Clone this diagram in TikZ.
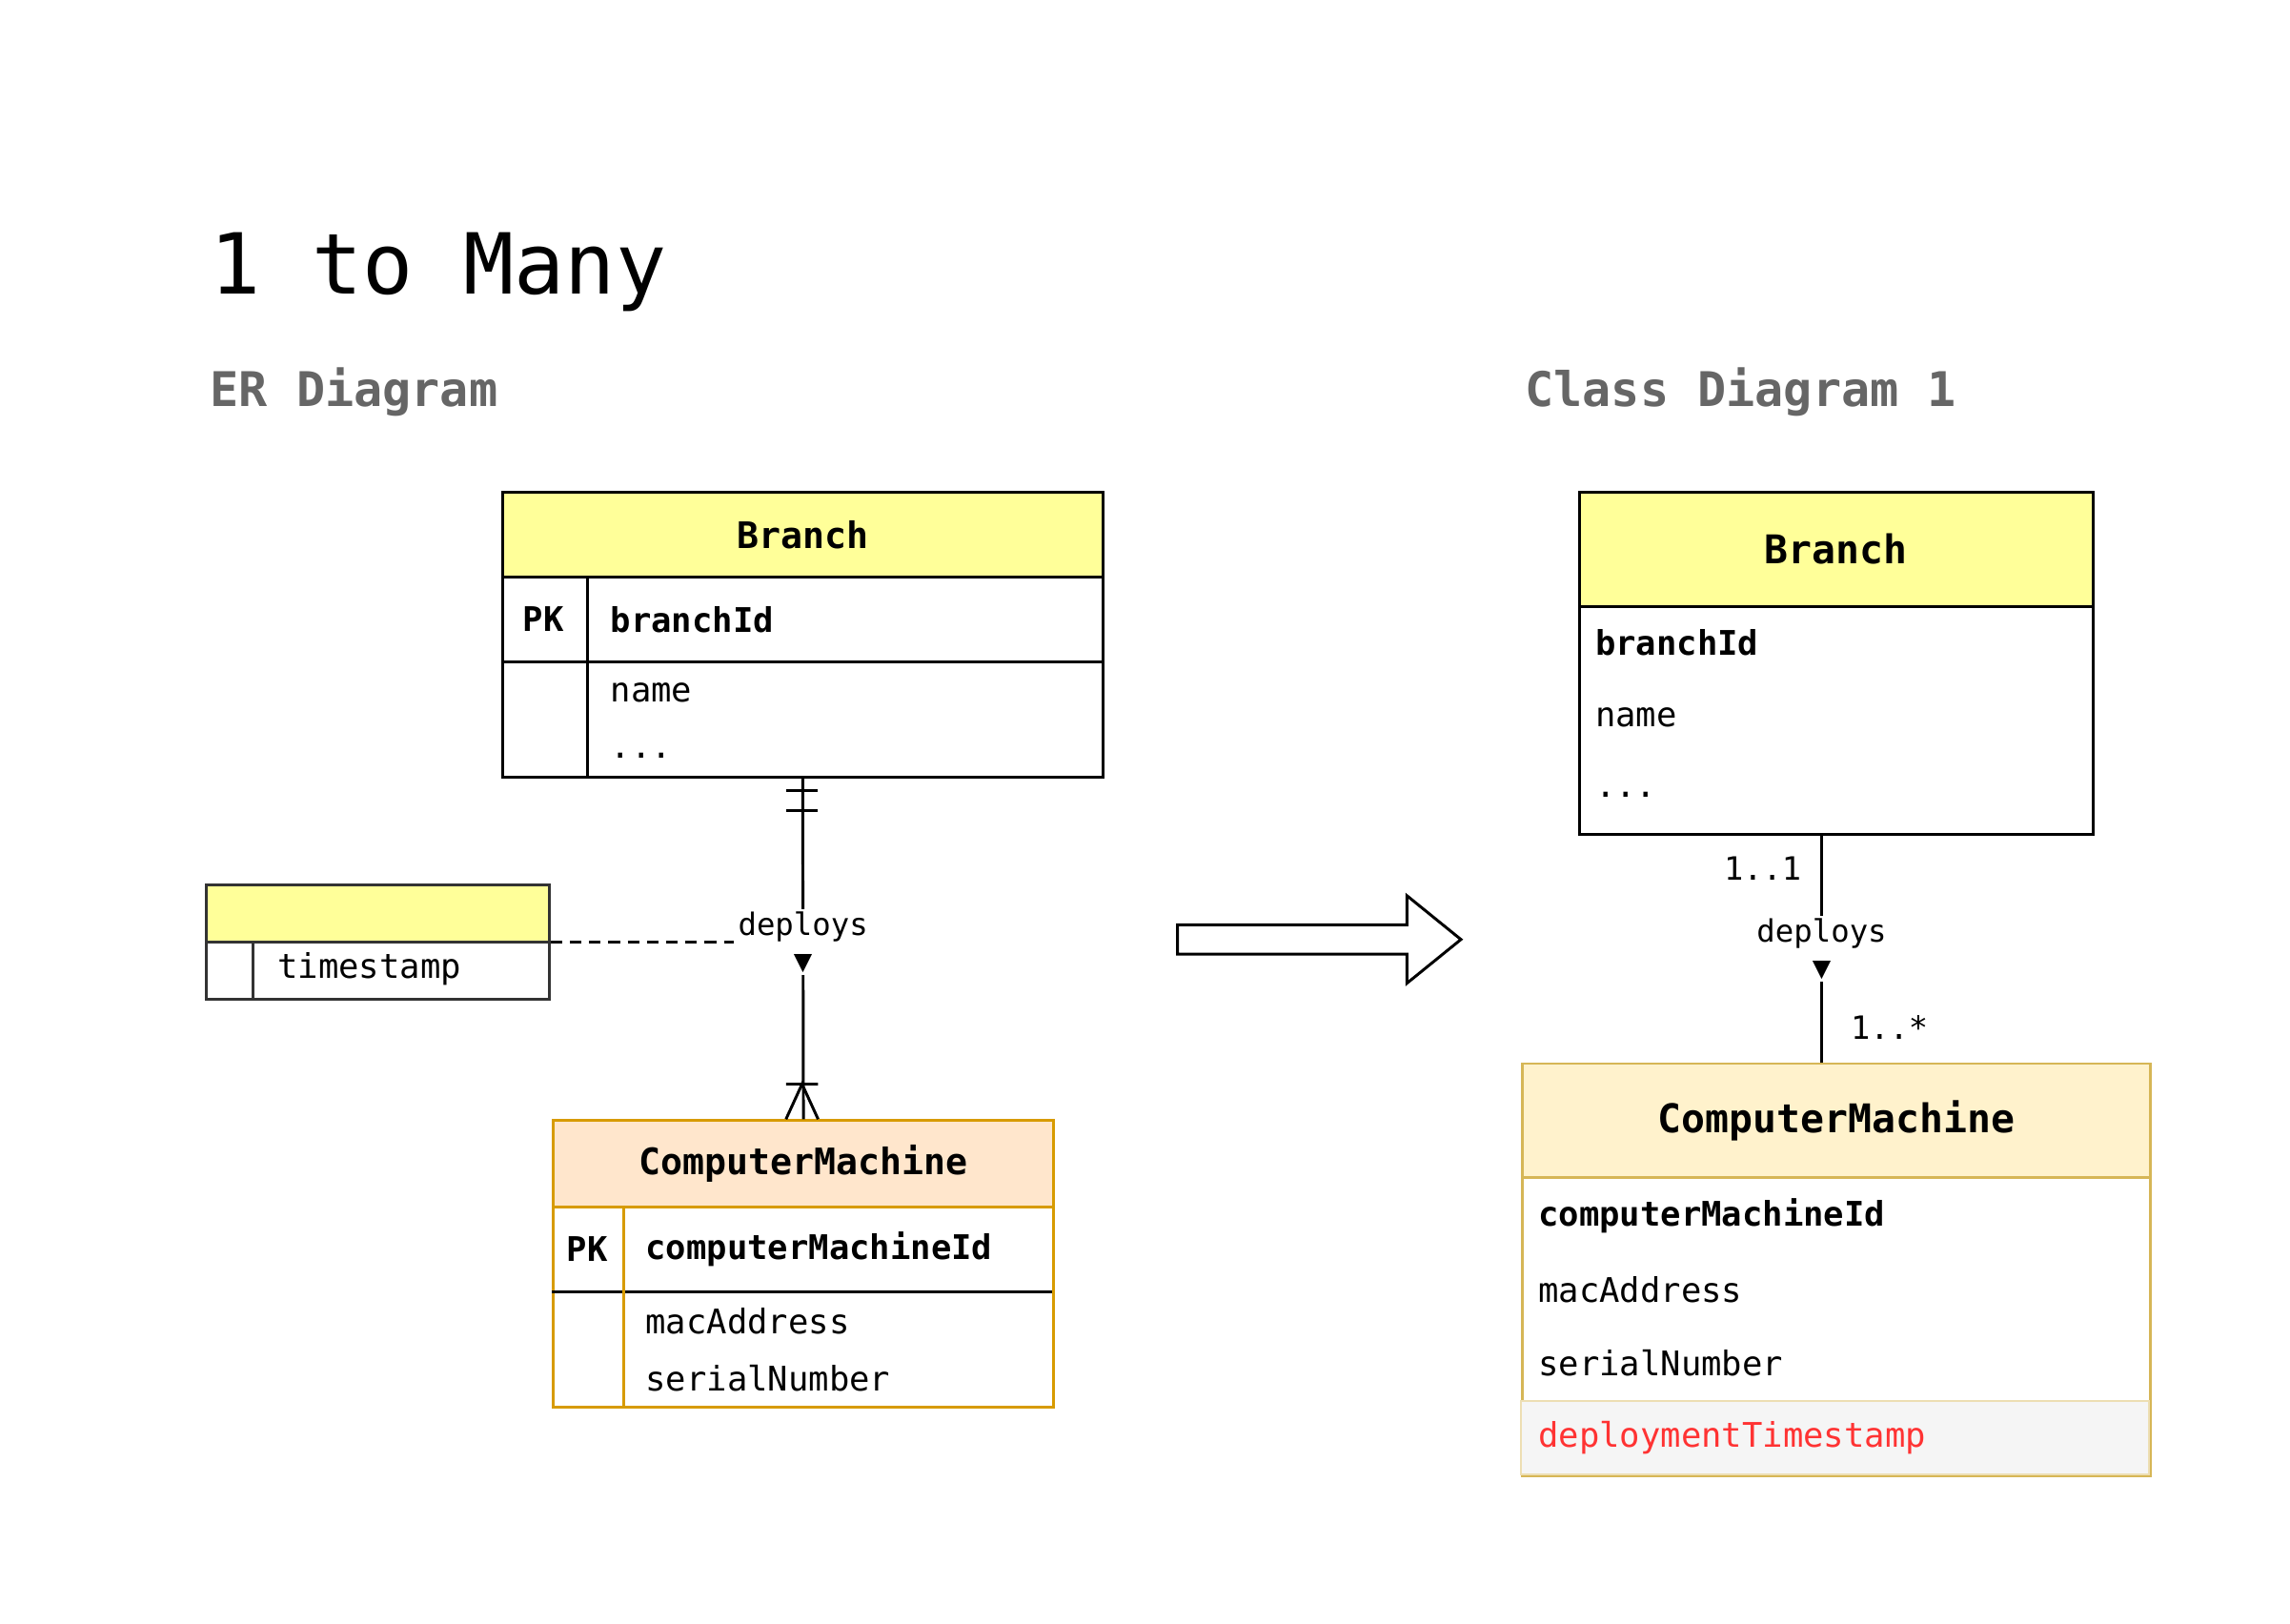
\documentclass[tikz,border=0pt]{standalone}
\usepackage{fontspec}
\setmainfont{DejaVu Sans Mono}

\definecolor{erYellow}{HTML}{FFFF99}
\definecolor{erPeach}{HTML}{FFE6CC}
\definecolor{erOrange}{HTML}{D79B00}
\definecolor{clCream}{HTML}{FFF2CC}
\definecolor{clGold}{HTML}{D6B656}
\definecolor{subGray}{HTML}{666666}
\definecolor{rowGray}{HTML}{F5F5F5}
\definecolor{newRed}{HTML}{FF3333}

\tikzset{
  tbl/.style={draw, anchor=north west, inner sep=0pt},
  head/.style={tbl, font=\fontsize{14.2}{17}\selectfont\bfseries},
  chead/.style={tbl, font=\fontsize{15.4}{18}\selectfont\bfseries},
  fld/.style={anchor=west, inner sep=0pt, font=\fontsize{13.2}{16}\selectfont},
  rel/.style={fill=white, align=center, inner sep=1pt, font=\fontsize{12}{14.2}\selectfont},
  mult/.style={inner sep=0pt, font=\fontsize{12.5}{15}\selectfont}
}

\begin{document}
\begin{tikzpicture}[x=0.02cm, y=-0.02cm, line width=1.1pt]
\useasboundingbox (0,0) rectangle (1567.5,1111.5);

\node[anchor=base west, inner sep=0pt, font=\fontsize{32.8}{38}\selectfont] (title) at (143,201) {1 to Many};
\node[anchor=base west, inner sep=0pt, text=subGray, font=\fontsize{18.6}{22}\selectfont\bfseries] (erTitle) at (143,278) {ER Diagram};
\node[anchor=base west, inner sep=0pt, text=subGray, font=\fontsize{18.6}{22}\selectfont\bfseries] (clTitle) at (1043,278) {Class Diagram 1};

% ER diagram
\node[head, fill=erYellow, minimum width=8.22cm, minimum height=1.16cm] (brErHead) at (343,336) {Branch};
\node[tbl, minimum width=8.22cm, minimum height=3.9cm] (brEr) at (343,336) {};
\draw (343,453) -- (754,453);
\draw (402,394) -- (402,531);
\node[fld, anchor=center, font=\fontsize{13.2}{16}\selectfont\bfseries] (brErPk) at (372,424) {PK};
\node[fld, font=\fontsize{13.2}{16}\selectfont\bfseries] (brErId) at (417,424) {branchId};
\node[fld] (brErName) at (417,474) {name};
\node[fld] (brErMore) at (417,517) {...};

\node[head, fill=erPeach, draw=erOrange, minimum width=6.84cm, minimum height=1.18cm] (cmErHead) at (378,766) {ComputerMachine};
\node[tbl, draw=erOrange, minimum width=6.84cm, minimum height=3.92cm] (cmEr) at (378,766) {};
\draw (378,884) -- (720,884);
\draw[erOrange] (427,825) -- (427,962);
\node[fld, anchor=center, font=\fontsize{13.2}{16}\selectfont\bfseries] (cmErPk) at (402,855) {PK};
\node[fld, font=\fontsize{13.2}{16}\selectfont\bfseries] (cmErId) at (441,855) {computerMachineId};
\node[fld] (cmErMac) at (441,904) {macAddress};
\node[fld] (cmErSerial) at (441,943) {serialNumber};

\node[tbl, fill=erYellow, draw=black!80, minimum width=4.7cm, minimum height=0.78cm] (tsHead) at (140,605) {};
\node[tbl, draw=black!80, minimum width=4.7cm, minimum height=1.56cm] (tsBox) at (140,605) {};
\draw[black!80] (173,644) -- (173,683);
\node[fld] (tsField) at (189,663) {timestamp};

\draw (brEr.south) -- (cmEr.north) node[rel, pos=0.48] (erRel) {deploys\\▼};
\draw (538,541) -- (560,541) (538,555) -- (560,555);
\draw (538,742) -- (560,742) (538,766) -- (549,742) -- (560,766);
\draw[dash pattern=on 4.5pt off 3pt] (tsBox.east) -- (tsBox.east -| erRel.west);

% arrow
\draw[fill=white] (806,633) -- (963,633) -- (963,613) -- (1000,643) -- (963,673) -- (963,653) -- (806,653) -- cycle;

% class diagram
\node[chead, fill=erYellow, minimum width=7.04cm, minimum height=1.56cm] (brClHead) at (1080,336) {Branch};
\node[tbl, minimum width=7.04cm, minimum height=4.68cm] (brCl) at (1080,336) {};
\node[fld, font=\fontsize{13.2}{16}\selectfont\bfseries] (brClId) at (1091,440) {branchId};
\node[fld] (brClName) at (1091,491) {name};
\node[fld] (brClMore) at (1091,544) {...};

\node[chead, fill=clCream, draw=clGold, minimum width=8.6cm, minimum height=1.56cm] (cmClHead) at (1041,727) {ComputerMachine};
\node[tbl, draw=clGold, minimum width=8.6cm, minimum height=5.64cm] (cmCl) at (1041,727) {};
\draw[fill=rowGray, draw=clGold!45, line width=0.8pt] (1041,959) rectangle (1471,1009);
\node[fld, font=\fontsize{13.2}{16}\selectfont\bfseries] (cmClId) at (1052,832) {computerMachineId};
\node[fld] (cmClMac) at (1052,883) {macAddress};
\node[fld] (cmClSerial) at (1052,933) {serialNumber};
\node[fld, text=newRed] (cmClStamp) at (1052,984) {deploymentTimestamp};

\draw ([xshift=-0.2cm]brCl.south) -- ([xshift=-0.2cm]brCl.south |- cmCl.north)
  node[rel, pos=0.5] (clRel) {deploys\\▼}
  node[mult, pos=0.146, anchor=east, xshift=-0.26cm] (clOne) {1..1}
  node[mult, pos=0.847, anchor=west, xshift=0.38cm] (clMany) {1..*};
\end{tikzpicture}
\end{document}
